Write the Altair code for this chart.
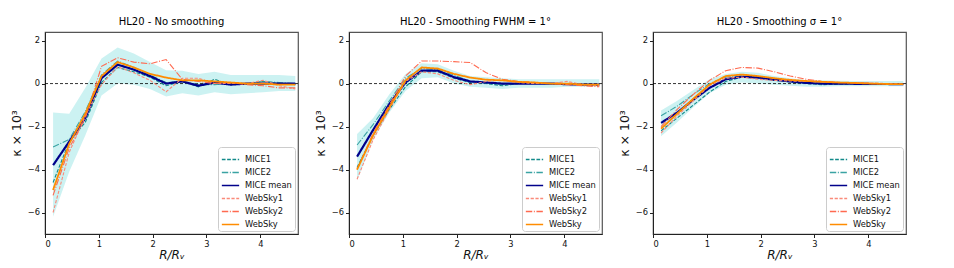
import altair as alt
import pandas as pd

x_vals = [0.15, 0.45, 0.75, 1.05, 1.35, 1.65, 1.95, 2.25, 2.55, 2.85, 3.15, 3.45, 3.75, 4.05, 4.35, 4.65]

series_names = ["MICE1", "MICE2", "MICE mean", "WebSky1", "WebSky2", "WebSky"]
series_colors = ["#138a8a", "#3aa3a3", "#00008b", "#fa8a7a", "#ff6a50", "#ff8c00"]
series_dash = [[3.7, 1.6], [6.4, 1.6, 1, 1.6], [1, 0], [3.2, 1.6], [6.4, 1.6, 1, 1.6], [1, 0]]
series_width = [1.1, 1.1, 2.2, 1.1, 1.1, 1.8]

titles = ["HL20 - No smoothing", "HL20 - Smoothing FWHM = 1°", "HL20 - Smoothing σ = 1°"]

# Panel 1: no smoothing
p1_mice1 = [-4.6, -2.7, -1.8, 0.05, 0.75, 0.55, 0.3, -0.1, 0.1, -0.15, 0.2, -0.05, 0.0, 0.1, 0.0, -0.05]
p1_mice2 = [-2.95, -2.6, -1.3, 0.4, 1.05, 0.75, 0.4, 0.05, 0.1, -0.05, -0.05, 0.0, 0.0, 0.1, 0.05, 0.0]
p1_mean = [-3.8, -2.7, -1.6, 0.25, 0.88, 0.65, 0.35, 0.0, 0.1, -0.1, 0.05, -0.05, 0.0, 0.0, 0.0, 0.0]
p1_ws1 = [-6.0, -3.2, -1.5, -0.05, 0.78, 0.5, 0.15, -0.38, 0.25, 0.25, 0.0, 0.0, 0.0, 0.15, -0.1, -0.25]
p1_ws2 = [-5.2, -3.0, -1.6, 0.8, 1.2, 1.0, 0.92, 1.12, 0.2, 0.1, 0.0, 0.05, -0.05, -0.1, -0.2, -0.2]
p1_ws = [-4.95, -2.8, -1.4, 0.35, 1.0, 0.75, 0.45, 0.28, 0.15, 0.15, 0.1, 0.05, 0.0, 0.0, -0.05, -0.05]
p1_lo = [-6.2, -4.1, -2.4, -0.55, 0.0, -0.05, -0.25, -0.6, -0.45, -0.55, -0.4, -0.5, -0.45, -0.4, -0.35, -0.35]
p1_hi = [-1.35, -1.4, -0.2, 1.17, 1.68, 1.4, 1.0, 0.62, 0.6, 0.45, 0.55, 0.4, 0.4, 0.4, 0.4, 0.35]

# Panel 2: FWHM smoothing
p2_mice1 = [-3.9, -2.4, -1.2, -0.15, 0.55, 0.55, 0.25, 0.05, 0.0, -0.1, 0.0, 0.0, 0.0, -0.03, -0.05, -0.05]
p2_mice2 = [-2.86, -1.9, -0.8, 0.25, 0.7, 0.65, 0.4, 0.1, 0.05, -0.05, 0.0, 0.0, 0.0, 0.0, -0.03, -0.05]
p2_mean = [-3.4, -2.15, -0.95, 0.05, 0.6, 0.6, 0.3, 0.1, 0.05, 0.0, 0.0, 0.0, 0.0, -0.03, -0.05, -0.05]
p2_ws1 = [-4.45, -2.6, -1.2, 0.1, 0.55, 0.45, 0.15, -0.05, 0.1, 0.15, 0.05, 0.0, 0.0, 0.1, -0.05, -0.1]
p2_ws2 = [-4.0, -2.3, -1.0, 0.35, 1.05, 1.05, 1.02, 0.98, 0.5, 0.2, 0.1, 0.05, 0.0, -0.05, -0.1, -0.15]
p2_ws = [-4.0, -2.4, -1.1, 0.15, 0.75, 0.7, 0.45, 0.28, 0.18, 0.15, 0.08, 0.05, 0.0, 0.0, -0.05, -0.05]
p2_lo = [-4.5, -2.6, -1.35, -0.35, 0.25, 0.3, 0.0, -0.15, -0.2, -0.25, -0.2, -0.2, -0.2, -0.15, -0.15, -0.15]
p2_hi = [-2.35, -1.6, -0.5, 0.45, 0.95, 0.9, 0.6, 0.35, 0.3, 0.25, 0.2, 0.2, 0.2, 0.2, 0.2, 0.2]

# Panel 3: sigma smoothing
p3_mice1 = [-2.2, -1.6, -1.0, -0.4, 0.1, 0.3, 0.25, 0.15, 0.08, 0.0, -0.05, -0.03, -0.02, -0.02, -0.02, -0.03]
p3_mice2 = [-1.5, -1.05, -0.5, 0.0, 0.3, 0.35, 0.3, 0.2, 0.1, 0.02, 0.0, 0.0, 0.0, 0.0, -0.02, -0.03]
p3_mean = [-1.83, -1.35, -0.75, -0.2, 0.2, 0.32, 0.28, 0.18, 0.1, 0.03, 0.0, 0.0, -0.01, -0.02, -0.02, -0.03]
p3_ws1 = [-2.3, -1.5, -0.8, -0.1, 0.25, 0.3, 0.2, 0.15, 0.12, 0.1, 0.08, 0.05, 0.05, 0.03, 0.0, -0.02]
p3_ws2 = [-2.0, -1.2, -0.5, 0.15, 0.6, 0.75, 0.72, 0.55, 0.35, 0.2, 0.1, 0.05, 0.02, 0.0, -0.02, -0.05]
p3_ws = [-2.1, -1.4, -0.7, -0.05, 0.35, 0.42, 0.35, 0.25, 0.17, 0.12, 0.08, 0.05, 0.03, 0.0, -0.02, -0.03]
p3_lo = [-2.45, -1.8, -1.1, -0.45, -0.05, 0.05, 0.0, -0.05, -0.1, -0.15, -0.15, -0.13, -0.12, -0.12, -0.12, -0.12]
p3_hi = [-1.25, -0.8, -0.3, 0.2, 0.45, 0.55, 0.5, 0.35, 0.25, 0.15, 0.15, 0.13, 0.12, 0.12, 0.12, 0.12]

panels = [
    ([p1_mice1, p1_mice2, p1_mean, p1_ws1, p1_ws2, p1_ws], p1_lo, p1_hi),
    ([p2_mice1, p2_mice2, p2_mean, p2_ws1, p2_ws2, p2_ws], p2_lo, p2_hi),
    ([p3_mice1, p3_mice2, p3_mean, p3_ws1, p3_ws2, p3_ws], p3_lo, p3_hi),
]

FONT = "DejaVu Sans"
x_scale = alt.Scale(domain=[0, 4.7], nice=False, zero=False)
y_scale = alt.Scale(domain=[-7, 2.4], nice=False, zero=False)

def make_panel(series_list, lo, hi, title):
    rows = []
    for name, w, vals in zip(series_names, series_width, series_list):
        for xv, yv in zip(x_vals, vals):
            rows.append({"x": xv, "y": yv, "series": name, "w": w})
    df = pd.DataFrame(rows)
    band = pd.DataFrame({"x": x_vals, "lo": lo, "hi": hi})

    x_axis = alt.Axis(values=[0, 1, 2, 3, 4], title="R/Rᵥ", titleFontStyle="italic", format="d")
    y_axis = alt.Axis(values=[-6, -4, -2, 0, 2], title="κ × 10³", format="d")

    area = alt.Chart(band).mark_area(color="#00bfbf", opacity=0.2).encode(
        x=alt.X("x:Q", scale=x_scale, axis=x_axis),
        y=alt.Y("lo:Q", scale=y_scale, axis=y_axis),
        y2="hi:Q",
    )
    zero = alt.Chart(pd.DataFrame({"z": [0]})).mark_rule(
        color="black", strokeDash=[3, 2], strokeWidth=0.8
    ).encode(y=alt.Y("z:Q", scale=y_scale))
    lines = alt.Chart(df).mark_line().encode(
        x=alt.X("x:Q", scale=x_scale),
        y=alt.Y("y:Q", scale=y_scale),
        color=alt.Color("series:N", scale=alt.Scale(domain=series_names, range=series_colors),
                        legend=alt.Legend(title=None, orient="bottom-right")),
        strokeDash=alt.StrokeDash("series:N", scale=alt.Scale(domain=series_names, range=series_dash),
                                  legend=alt.Legend(title=None, orient="bottom-right")),
        strokeWidth=alt.StrokeWidth("w:Q", scale=None, legend=None),
        detail="series:N",
    )
    return alt.layer(area, zero, lines).properties(
        width=253, height=202,
        title=alt.TitleParams(title, fontSize=10, font=FONT, fontWeight="normal", offset=5),
    )

charts = [make_panel(s, lo, hi, t) for (s, lo, hi), t in zip(panels, titles)]

chart = alt.hconcat(*charts, spacing=12).resolve_scale(
    color="independent", strokeDash="independent"
).resolve_legend(
    color="independent", strokeDash="independent"
).configure(
    font=FONT, padding={"left": 1, "top": 8, "right": 5, "bottom": 0}
).configure_view(
    stroke="#555", strokeWidth=1.2
).configure_axis(
    grid=False, domainColor="#222", domainWidth=1, tickColor="#222", tickSize=3.5,
    labelFont=FONT, labelFontSize=8.3, labelColor="#111", labelPadding=2,
    titleFont=FONT, titleFontSize=12, titleFontWeight="normal", titleColor="#111",
).configure_axisX(titlePadding=2).configure_axisY(titlePadding=4, titleFontSize=12.5).configure_legend(
    labelFont=FONT, labelFontSize=8.3, labelColor="#111",
    symbolType="stroke", symbolSize=300, symbolStrokeWidth=1.5,
    fillColor="white", strokeColor="#ccc", cornerRadius=3, padding=3,
    offset=3, rowPadding=0, labelOffset=5,
)

chart.save("out.html", embed_options={"renderer": "svg", "actions": False})
